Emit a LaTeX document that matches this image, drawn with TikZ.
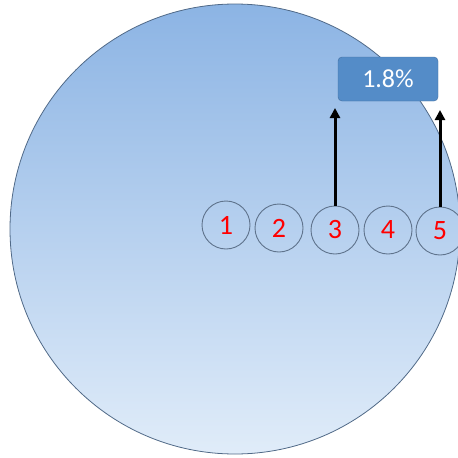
\documentclass[tikz,border=0pt]{standalone}
\usepackage{fontspec}
\setmainfont{Carlito}
\usetikzlibrary{arrows.meta,positioning}
\definecolor{disktop}{RGB}{140,180,228}
\definecolor{diskbot}{RGB}{224,236,249}
\definecolor{diskline}{RGB}{80,105,135}
\definecolor{ringline}{RGB}{95,115,140}
\definecolor{boxfill}{RGB}{84,140,200}
\definecolor{boxline}{RGB}{65,110,160}
\tikzset{
  disk/.style  = {circle, draw=diskline, line width=0.8pt, top color=disktop,
                  bottom color=diskbot, minimum size=450pt, inner sep=0pt},
  ring/.style  = {circle, draw=ringline, line width=0.9pt, minimum size=48pt,
                  inner sep=0pt, text=red, font=\fontsize{28}{28}\selectfont},
  tag/.style   = {draw=boxline, fill=boxfill, rounded corners=4pt, text=white,
                  minimum width=100pt, minimum height=44pt,
                  font=\fontsize{26}{26}\selectfont},
  vec/.style   = {-{Triangle[length=10pt,width=10pt]}, line width=3pt},
}
\begin{document}
\begin{tikzpicture}[x=1pt,y=-1pt]
  \useasboundingbox (0,0) rectangle (458,458);
  \node[disk] (disk) at (235,229) {};
  \node[ring] (c1) at (226,225) {1};
  \node[ring] (c2) at (279,228) {2};
  \node[ring] (c3) at (335,230) {3};
  \node[ring] (c4) at (388,230) {4};
  \node[ring] (c5) at (440,231) {5};
  \node[tag] (pct) at (388,79) {1.8\%};
  \coordinate (t3) at (335,108);
  \coordinate (t5) at (440,110);
  \draw[vec] (c3.north) -- (t3);
  \draw[vec] (c5.north) -- (t5);
\end{tikzpicture}
\end{document}
